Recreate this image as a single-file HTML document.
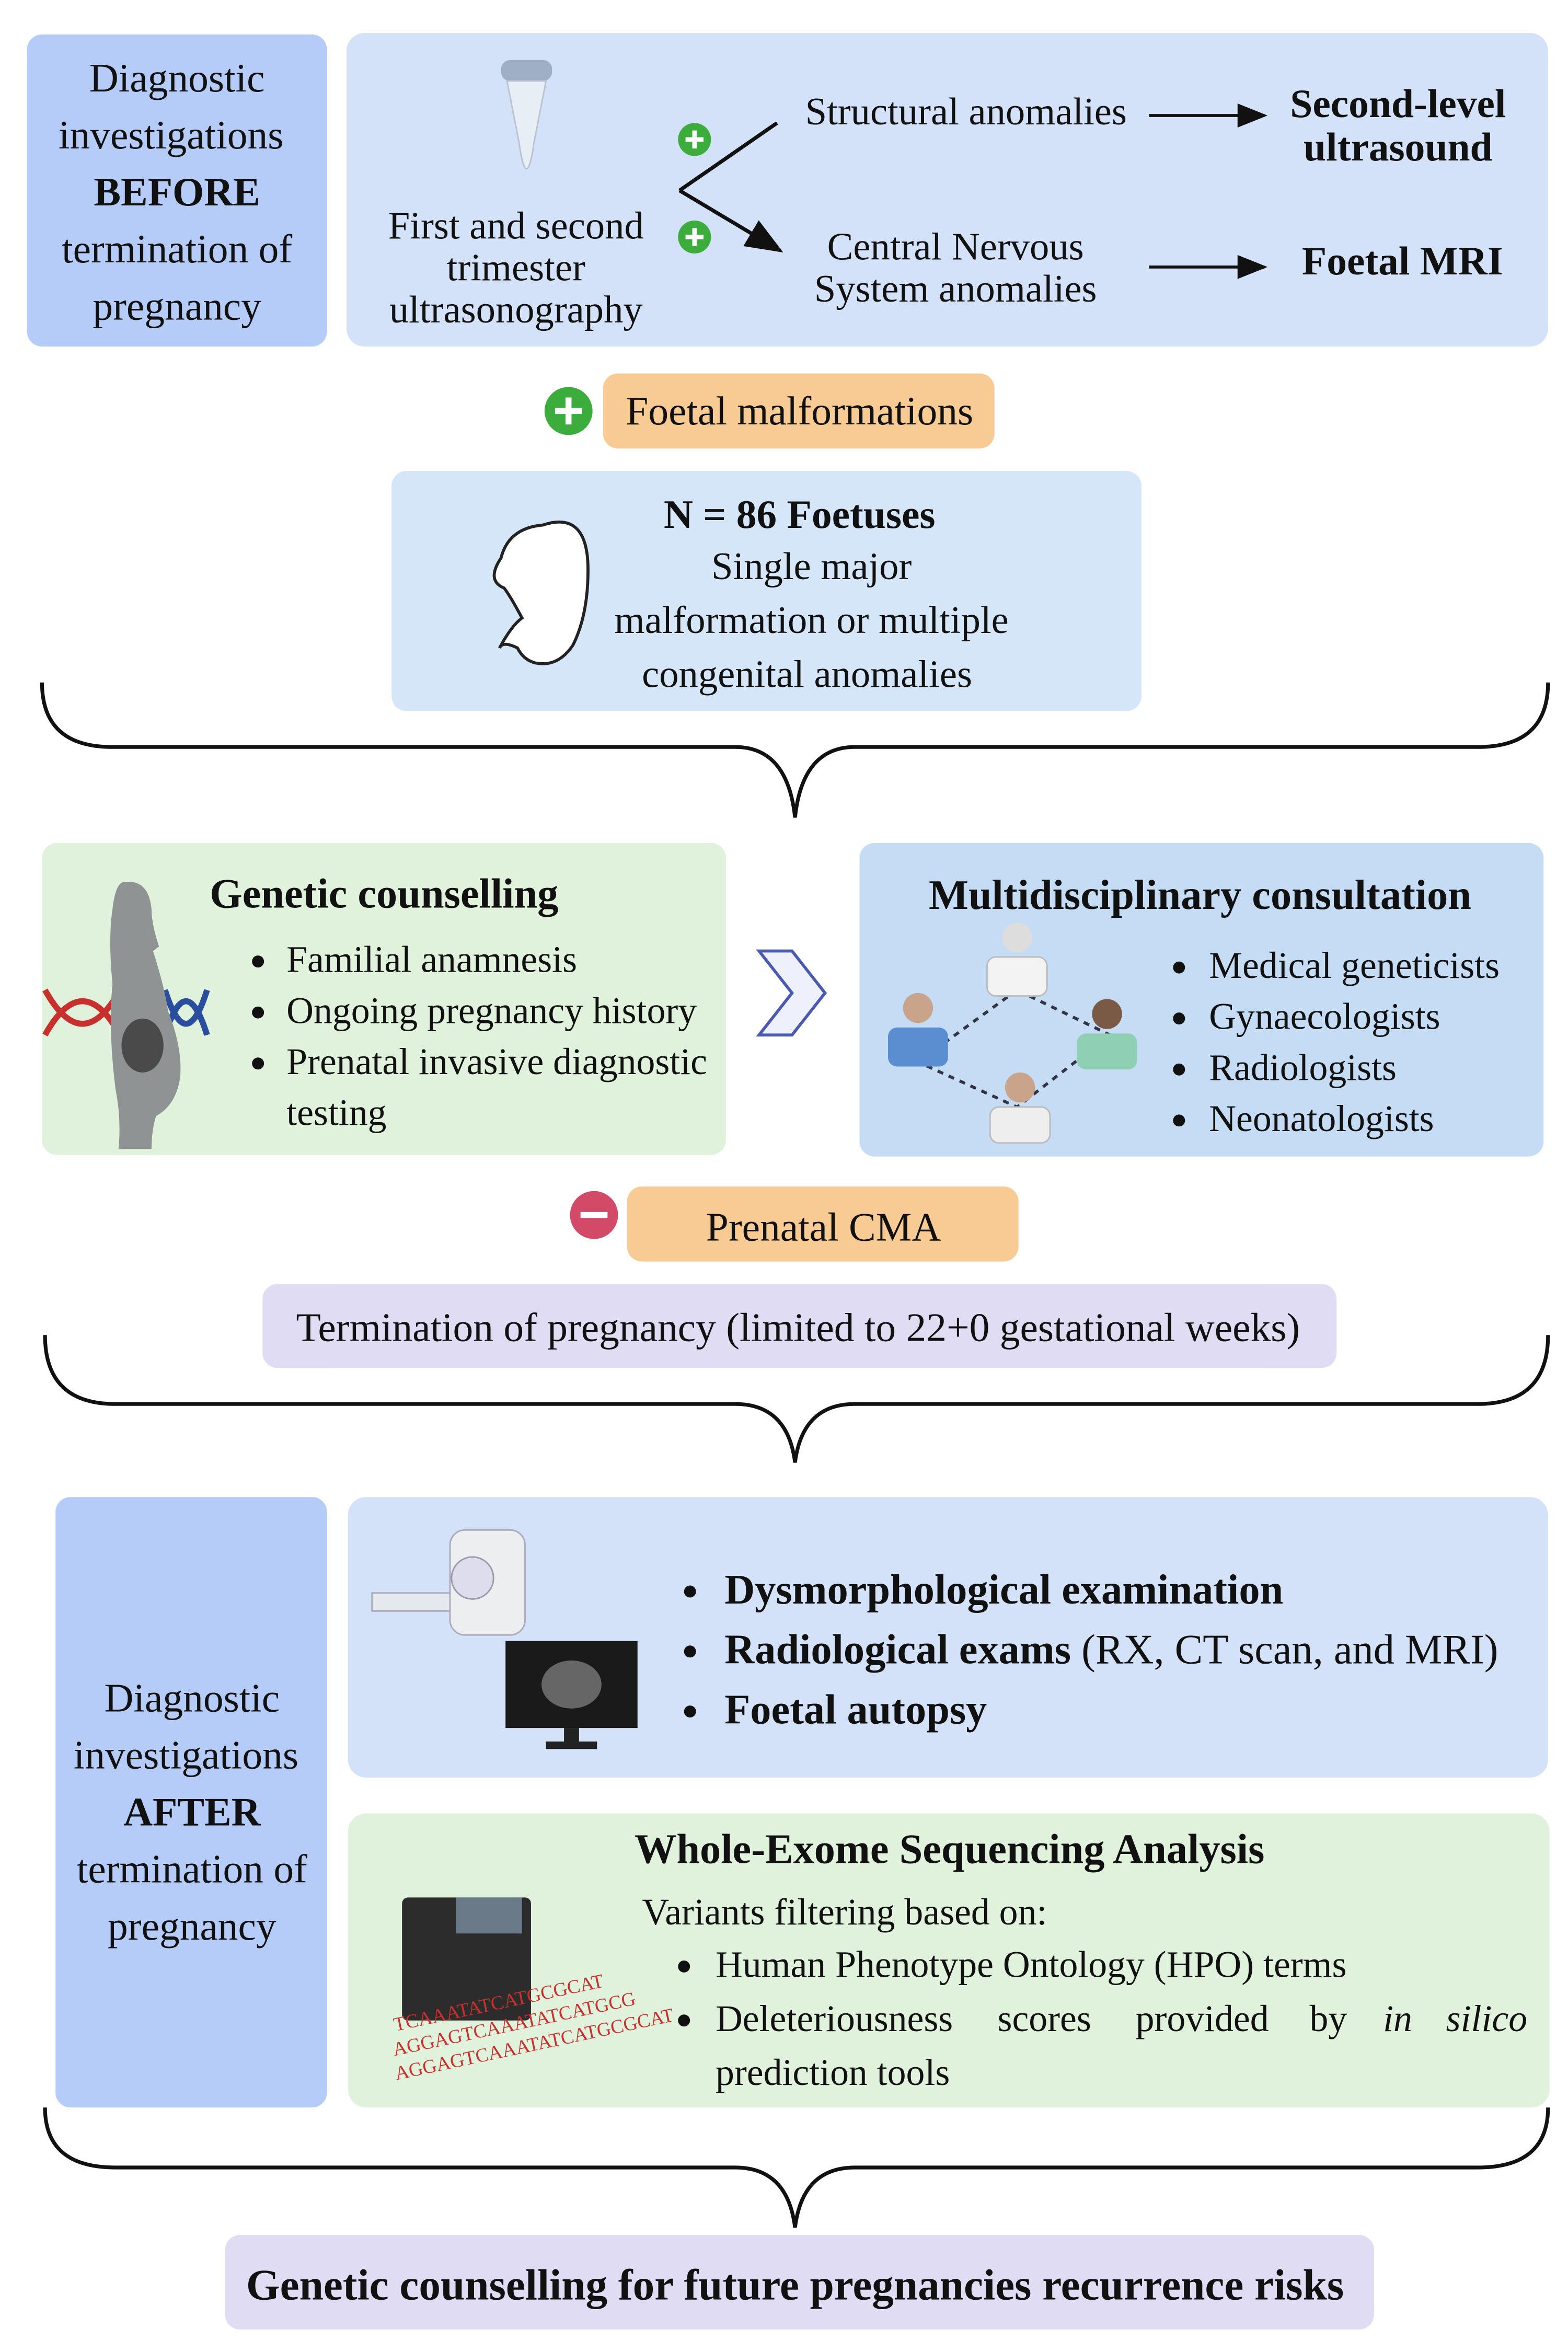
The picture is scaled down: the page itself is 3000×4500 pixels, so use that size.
<!DOCTYPE html>
<html><head><meta charset="utf-8"><style>
html,body{margin:0;padding:0;background:#fff;}
svg{display:block;}
text{font-family:"Liberation Serif",serif;fill:#111;}
.b{font-weight:bold;}
</style></head><body>
<svg width="3000" height="4500" viewBox="0 0 1045.3 1568" preserveAspectRatio="none" xmlns="http://www.w3.org/2000/svg">
<defs>
<marker id="ar" markerWidth="10" markerHeight="10" refX="9" refY="5" orient="auto"><path d="M0,1 L10,5 L0,9 z" fill="#111"/></marker>
</defs>
<!-- BEFORE -->
<rect x="18" y="23" width="200" height="208" rx="10" fill="#b5cbf8"/>
<g font-size="27" text-anchor="middle">
<text x="118" y="61">Diagnostic</text>
<text x="114" y="99">investigations</text>
<text x="118" y="137" class="b">BEFORE</text>
<text x="118" y="175">termination of</text>
<text x="118" y="213">pregnancy</text>
</g>
<rect x="231" y="22" width="801" height="209" rx="12" fill="#d3e2f8"/>
<!-- probe -->
<rect x="334" y="40" width="34" height="14" rx="6" fill="#9fb0c4"/>
<path d="M338,54 L364,54 L356,95 Q351,130 346,95 Z" fill="#e8eef5" stroke="#b9c4d0"/>
<g font-size="26" text-anchor="middle">
<text x="344" y="159">First and second</text>
<text x="344" y="187">trimester</text>
<text x="344" y="215">ultrasonography</text>
</g>
<circle cx="463" cy="93" r="11" fill="#3cac3c"/><path d="M457,93h12M463,87v12" stroke="#fff" stroke-width="3"/>
<circle cx="463" cy="158" r="11" fill="#3cac3c"/><path d="M457,158h12M463,152v12" stroke="#fff" stroke-width="3"/>
<path d="M453,127 L518,82 M453,127 L520,167" stroke="#111" stroke-width="2.5" fill="none" marker-end="url(#ar)"/>
<g font-size="26" text-anchor="middle">
<text x="644" y="83">Structural anomalies</text>
<text x="637" y="173">Central Nervous</text>
<text x="637" y="201">System anomalies</text>
</g>
<line x1="766" y1="77" x2="843" y2="77" stroke="#111" stroke-width="2" marker-end="url(#ar)"/>
<line x1="766" y1="178" x2="843" y2="178" stroke="#111" stroke-width="2" marker-end="url(#ar)"/>
<g font-size="27" text-anchor="middle">
<text x="932" y="78" class="b">Second-level</text>
<text x="932" y="107" class="b">ultrasound</text>
<text x="935" y="183" class="b">Foetal MRI</text>
</g>
<!-- Foetal malformations -->
<circle cx="379" cy="274" r="16" fill="#3cac3c"/><path d="M370,274h18M379,265v18" stroke="#fff" stroke-width="4"/>
<rect x="402" y="249" width="261" height="50" rx="10" fill="#f8cb94"/>
<text x="533" y="283" font-size="27" text-anchor="middle">Foetal malformations</text>
<!-- N box -->
<rect x="261" y="314" width="500" height="160" rx="10" fill="#d6e6f9"/>
<path d="M362,350 q30,-10 30,30 q0,30 -10,50 q-10,15 -25,12 q-8,-2 -12,-10 q-10,-5 -12,0 q8,-15 15,-20 q-8,-15 -12,-20 q-12,-5 -2,-20 q5,-20 28,-22z" fill="#fff" stroke="#222" stroke-width="2"/>
<text x="533" y="352" font-size="27" text-anchor="middle" class="b">N = 86 Foetuses</text>
<g font-size="26" text-anchor="middle">
<text x="541" y="386">Single major</text>
<text x="541" y="422">malformation or multiple</text>
<text x="538" y="458">congenital anomalies</text>
</g>
<!-- braces -->
<g fill="none" stroke="#111" stroke-width="2.5">
<path d="M28,455 Q28,498 75,498 L490,498 Q525,498 530,545 Q535,498 570,498 L985,498 Q1032,498 1032,455"/>
<path d="M30,890 Q30,936 77,936 L490,936 Q525,936 530,975 Q535,936 570,936 L985,936 Q1032,936 1032,890"/>
<path d="M30,1405 Q30,1445 77,1445 L490,1445 Q525,1445 530,1485 Q535,1445 570,1445 L985,1445 Q1032,1445 1032,1405"/>
</g>
<!-- Genetic counselling -->
<rect x="28" y="562" width="456" height="208" rx="10" fill="#e0f2db"/>
<path d="M30,690 q25,-45 50,0 M30,660 q25,45 50,0" stroke="#c8302e" stroke-width="4" fill="none"/>
<path d="M110,690 q14,-45 28,0 M110,660 q14,45 28,0" stroke="#2a4e9e" stroke-width="4" fill="none"/>
<path d="M83,588 q16,-2 18,18 q0,10 5,25 l-4,3 q8,25 10,40 q10,25 8,45 q-3,18 -16,25 q-3,10 -3,22 h-22 q2,-20 -2,-40 q-5,-40 -2,-70 q-3,-30 0,-50 q2,-18 8,-18z" fill="#8f9394"/>
<ellipse cx="95" cy="697" rx="14" ry="18" fill="#4a4a4a"/>
<text x="256" y="605" font-size="28" text-anchor="middle" class="b">Genetic counselling</text>
<g font-size="25">
<circle cx="172" cy="641" r="4" fill="#111"/><text x="191" y="648">Familial anamnesis</text>
<circle cx="172" cy="675" r="4" fill="#111"/><text x="191" y="682">Ongoing pregnancy history</text>
<circle cx="172" cy="709" r="4" fill="#111"/><text x="191" y="716">Prenatal invasive diagnostic</text>
<text x="191" y="750">testing</text>
</g>
<path d="M506,634 L528,634 L550,662 L528,690 L506,690 L528,662 Z" fill="#eef1fb" stroke="#4a5ab0" stroke-width="2"/>
<!-- Multidisciplinary -->
<rect x="573" y="562" width="456" height="209" rx="10" fill="#c5dcf5"/>
<text x="800" y="606" font-size="28" text-anchor="middle" class="b">Multidisciplinary consultation</text>
<path d="M678,660 L612,708 L678,738 L740,690 Z" fill="none" stroke="#334" stroke-width="2" stroke-dasharray="4,4"/>
<g>
<circle cx="678" cy="625" r="10" fill="#ddd"/><rect x="658" y="638" width="40" height="26" rx="6" fill="#f3f3f3" stroke="#bbb"/>
<circle cx="612" cy="672" r="10" fill="#c9a38a"/><rect x="592" y="685" width="40" height="26" rx="6" fill="#5a8ed0"/>
<circle cx="738" cy="676" r="10" fill="#7a5a45"/><rect x="718" y="689" width="40" height="24" rx="6" fill="#8fd0b4"/>
<circle cx="680" cy="725" r="10" fill="#c9a38a"/><rect x="660" y="738" width="40" height="24" rx="6" fill="#eee" stroke="#bbb"/>
</g>
<g font-size="25">
<circle cx="786" cy="645" r="4" fill="#111"/><text x="806" y="652">Medical geneticists</text>
<circle cx="786" cy="679" r="4" fill="#111"/><text x="806" y="686">Gynaecologists</text>
<circle cx="786" cy="713" r="4" fill="#111"/><text x="806" y="720">Radiologists</text>
<circle cx="786" cy="747" r="4" fill="#111"/><text x="806" y="754">Neonatologists</text>
</g>
<!-- Prenatal CMA -->
<circle cx="396" cy="810" r="16" fill="#d24a67"/><path d="M387,810h18" stroke="#fff" stroke-width="4"/>
<rect x="418" y="791" width="261" height="50" rx="10" fill="#f8cb94"/>
<text x="549" y="827" font-size="27" text-anchor="middle">Prenatal CMA</text>
<rect x="175" y="856" width="716" height="56" rx="10" fill="#e0dcf3"/>
<text x="532" y="894" font-size="27" text-anchor="middle">Termination of pregnancy (limited to 22+0 gestational weeks)</text>
<!-- AFTER -->
<rect x="37" y="998" width="181" height="407" rx="10" fill="#b5cbf8"/>
<g font-size="27" text-anchor="middle">
<text x="128" y="1141">Diagnostic</text>
<text x="124" y="1179">investigations</text>
<text x="128" y="1217" class="b">AFTER</text>
<text x="128" y="1255">termination of</text>
<text x="128" y="1293">pregnancy</text>
</g>
<rect x="232" y="998" width="800" height="187" rx="12" fill="#d3e2f8"/>
<!-- scanner -->
<rect x="248" y="1062" width="100" height="12" fill="#e5e9ee" stroke="#aab"/>
<rect x="300" y="1020" width="50" height="70" rx="10" fill="#eceef0" stroke="#aab"/>
<circle cx="315" cy="1052" r="14" fill="#dde" stroke="#99a"/>
<rect x="337" y="1094" width="88" height="58" fill="#1a1a1a"/>
<ellipse cx="381" cy="1123" rx="20" ry="16" fill="#666"/>
<rect x="376" y="1152" width="10" height="10" fill="#222"/><rect x="364" y="1161" width="34" height="5" fill="#222"/>
<g font-size="28">
<circle cx="460" cy="1061" r="4" fill="#111"/><text x="483" y="1069" class="b">Dysmorphological examination</text>
<circle cx="460" cy="1101" r="4" fill="#111"/><text x="483" y="1109"><tspan font-weight="bold">Radiological exams</tspan> (RX, CT scan, and MRI)</text>
<circle cx="460" cy="1141" r="4" fill="#111"/><text x="483" y="1149" class="b">Foetal autopsy</text>
</g>
<!-- WES -->
<rect x="232" y="1209" width="801" height="196" rx="12" fill="#e0f2db"/>
<rect x="268" y="1265" width="86" height="82" rx="4" fill="#2c2c2c"/>
<rect x="304" y="1265" width="44" height="24" fill="#6a7a88"/>
<g font-size="13" transform="rotate(-12 330 1340)">
<text x="262" y="1340" style="fill:#c8302e">TCAAATATCATGCGCAT</text>
<text x="258" y="1356" style="fill:#c8302e">AGGAGTCAAATATCATGCG</text>
<text x="256" y="1372" style="fill:#c8302e">AGGAGTCAAATATCATGCGCAT</text>
</g>
<text x="633" y="1242" font-size="28" text-anchor="middle" class="b">Whole-Exome Sequencing Analysis</text>
<g font-size="25">
<text x="428" y="1283">Variants filtering based on:</text>
<circle cx="456" cy="1311" r="4" fill="#111"/><text x="477" y="1318">Human Phenotype Ontology (HPO) terms</text>
<circle cx="456" cy="1347" r="4" fill="#111"/>
<text x="477" y="1354">Deleteriousness</text>
<text x="665" y="1354">scores</text>
<text x="757" y="1354">provided</text>
<text x="873" y="1354">by</text>
<text x="922" y="1354" font-style="italic">in</text>
<text x="964" y="1354" font-style="italic">silico</text>
<text x="477" y="1390">prediction tools</text>
</g>
<!-- final -->
<rect x="150" y="1490" width="766" height="63" rx="10" fill="#e0dcf3"/>
<text x="530" y="1533" font-size="29" text-anchor="middle" class="b">Genetic counselling for future pregnancies recurrence risks</text>
</svg>
</body></html>
